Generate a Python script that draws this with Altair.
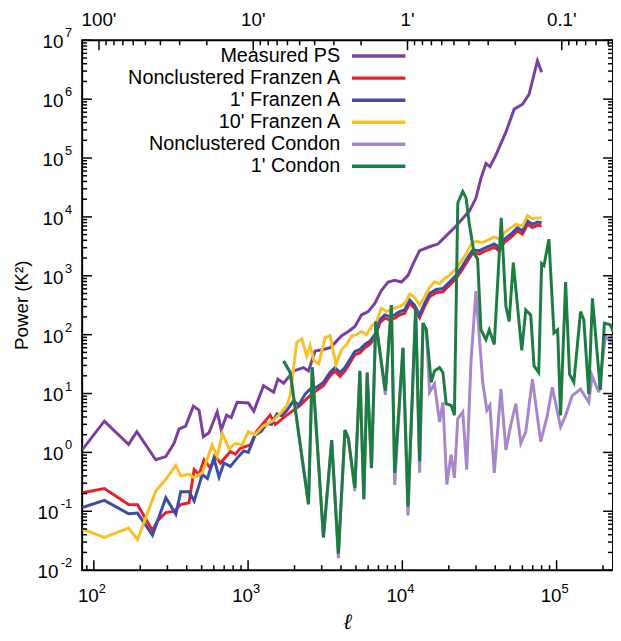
import altair as alt
import pandas as pd

FONT = "Liberation Sans"
W, H = 537, 536
X_DOMAIN = [84, 232000]
Y_DOMAIN = [0.01, 1e7]

SERIES = ["Measured PS", "Nonclustered Franzen A", "1' Franzen A",
          "10' Franzen A", "Nonclustered Condon", "1' Condon"]
COLORS = ["#7b3f9f", "#e5222b", "#3b4da6", "#f8c027", "#a886cb", "#1c7d41"]

MEASURED_L = [84, 117, 168, 190, 252, 293, 331, 357, 394, 442, 481, 513, 558, 631, 670, 725, 777, 849,
              1004, 1089, 1259, 1465, 1560, 1698, 1972, 2286, 2463, 2719, 3078, 3397, 3658, 4040, 4463,
              4925, 5437, 6008, 6628, 7323, 8095, 8920, 9860, 10890, 11730, 12940, 15000, 17000, 19220,
              22300, 25950, 27180, 29990, 32330, 34830, 36960, 40380, 46880, 53080, 60120, 66260, 75120,
              79960]
MEASURED_P = [1.1, 3.4, 1.37, 2.24, 0.75, 0.85, 1.43, 2.5, 2.8, 6.1, 5.2, 1.85, 2.15, 4.9, 2.4, 4.3, 3.9,
              7.1, 6.9, 5.0, 13.6, 10.5, 17.6, 15.0, 24.2, 27.6, 24.2, 52.5, 56, 60, 72.5, 96, 113, 138,
              217, 246, 340, 569, 784, 837, 784, 1016, 1597, 2670, 3110, 3460, 4770, 7010, 11000, 12500,
              20900, 45300, 80900, 71100, 112000, 275000, 677000, 820000, 1.21e6, 4.5e6, 2.87e6]

RED_L = [84, 117, 168, 192, 240, 259, 293, 331, 366, 414, 447, 481, 518, 570, 617, 662, 768, 829, 892,
         1034, 1139, 1390, 1499, 1785, 2175, 2520, 2790, 3078, 3397, 3658, 3940, 4245, 4570, 4925, 5305,
         5715, 6155, 6628, 7140, 7690, 8285, 8920, 9610, 10350, 11150, 12000, 12940, 13930, 15010, 16560,
         18320, 20200, 22300, 24640, 26570, 28600, 31560, 34830, 39430, 42490, 45760, 50460, 55720, 60120,
         64700, 69670, 75120, 79960]
RED_P = [0.207, 0.244, 0.13, 0.129, 0.047, 0.069, 0.095, 0.10, 0.13, 0.14, 0.51, 0.42, 0.75, 0.54, 0.85,
         0.66, 1.03, 0.93, 1.17, 1.34, 2.3, 4.3, 2.97, 4.3, 6.3, 9.2, 11.3, 13.6, 20, 24, 19.5, 24, 33, 46,
         49, 60, 68, 88, 158, 191, 178, 190, 216, 231, 340, 280, 195, 300, 440, 515, 535, 690, 894, 1315,
         1817, 2411, 2350, 2660, 3045, 2660, 3690, 4470, 5770, 5090, 7490, 6580, 7200, 7000]

BLUE_L = [84, 117, 168, 192, 240, 293, 340, 366, 414, 447, 505, 545, 600, 648, 697, 768, 849, 936, 1004,
          1110, 1220, 1323, 1420, 1538, 1656, 1785, 1972, 2123, 2345, 2525, 2790, 3078, 3397, 3658, 3940,
          4245, 4570, 4925, 5305, 5715, 6155, 6628, 7140, 7690, 8285, 8920, 9610, 10350, 11150, 12000,
          12940, 13930, 15010, 16560, 18320, 20200, 22300, 24640, 26570, 28600, 31560, 34830, 39430, 42490,
          45760, 50460, 55720, 60120, 64700, 69670, 75120, 79960]
BLUE_P = [0.116, 0.153, 0.091, 0.093, 0.039, 0.17, 0.089, 0.215, 0.215, 0.15, 0.42, 0.36, 0.8, 0.38, 0.66,
          0.58, 0.8, 1.06, 1.0, 1.96, 2.3, 3.1, 3.0, 4.5, 4.2, 5.2, 7.6, 6.3, 9.8, 11.9, 12.8, 15.5, 22.8,
          27.6, 22.8, 27.6, 38, 52, 56, 68, 77, 100, 179, 217, 203, 217, 246, 263, 386, 318, 217, 340, 501,
          585, 608, 784, 1016, 1494, 2065, 2740, 2670, 3020, 3460, 3020, 4190, 5080, 6560, 5780, 8510, 7480,
          8180, 7950]

YELLOW_L = [84, 117, 168, 192, 252, 293, 340, 366, 414, 447, 505, 585, 631, 681, 750, 829, 913, 1004, 1110,
            1250, 1465, 1650, 1785, 1875, 2070, 2230, 2400, 2525, 2680, 2870, 3155, 3397, 3715, 4040, 4350,
            4690, 5050, 5437, 5860, 6310, 6800, 7320, 7890, 8720, 9610, 10360, 11150, 12000, 12940, 13930,
            15010, 16150, 17420, 18750, 20200, 22300, 25880, 27870, 29990, 33190, 35730, 39430, 42490, 45760,
            49230, 54350, 60120, 64700, 69670, 75120, 79960]
YELLOW_P = [0.05, 0.036, 0.052, 0.033, 0.22, 0.35, 0.6, 0.4, 0.43, 0.37, 0.45, 1.34, 0.85, 2.1, 1.17, 1.43,
            1.34, 2.24, 2.0, 2.8, 3.5, 4.85, 6.3, 9.2, 75, 85, 43, 65, 36, 32, 88, 96, 31, 56, 68, 96, 100,
            113, 100, 138, 167, 280, 246, 280, 299, 340, 488, 430, 318, 440, 631, 784, 736, 893, 1016, 1315,
            2350, 3460, 3820, 3670, 4030, 4580, 4190, 5410, 6160, 7480, 7010, 10500, 9300, 9600, 9600]

CONDON_NC_L = [1700, 1875, 2464, 2606, 3079, 3483, 3848, 4245, 4466, 4923, 5304, 5625, 5916, 6310, 6725,
               7760, 8490, 8920, 10090, 10880, 12190, 12940, 13610, 14300, 15010, 16150, 17420, 18320,
               19420, 20710, 21750, 22870, 24640, 26140, 27870, 29990, 33190, 35320, 36960, 39430, 43550,
               46880, 50460, 54350, 58610, 63100, 69670, 78890, 87100, 93800, 106100, 114400, 126200,
               142900, 161600, 169800, 187400, 207000, 223000, 232000]
CONDON_NC_P = [35.6, 22.8, 0.132, 27.9, 0.036, 1.62, 0.016, 2.39, 1.73, 0.22, 24.2, 0.16, 22.8, 0.54, 167,
               9.5, 318, 0.28, 59.8, 0.085, 281, 0.45, 157, 121, 10.5, 14.5, 3.3, 7.1, 0.285, 0.91, 0.37,
               3.75, 4.85, 0.51, 35.6, 550, 15.5, 5.2, 6.3, 0.45, 11.9, 1.1, 2.9, 6.7, 1.43, 2.24, 17.6,
               1.52, 4.26, 12.8, 2.72, 4.26, 9.2, 11.9, 7.1, 20, 10.5, 94, 77, 100]

CONDON_1_L = [1700, 1875, 2464, 2606, 3079, 3483, 3848, 4245, 4466, 4923, 5304, 5625, 5916, 6310, 6725,
              7760, 8490, 8920, 10090, 10880, 12190, 12940, 13610, 14300, 15390, 16150, 17420, 18320, 19230,
              20710, 21750, 22870, 24640, 25880, 27180, 29250, 30750, 32330, 34830, 36600, 39430, 43750,
              46880, 49230, 52370, 59430, 63100, 67920, 71400, 76560, 79960, 82800, 89120, 96100, 101500,
              106100, 114400, 121300, 129300, 142900, 150100, 161600, 170600, 192100, 204000, 223000, 232000]
CONDON_1_P = [35.6, 22.8, 0.132, 27.9, 0.036, 1.62, 0.019, 2.39, 1.73, 0.25, 24.2, 0.16, 22.8, 0.54, 167,
              11.1, 318, 0.45, 59.8, 0.12, 281, 0.70, 157, 121, 15.5, 24.2, 27.6, 22.8, 6.7, 6.3, 4.26,
              17260, 27100, 21000, 7480, 2350, 1940, 121, 82, 121, 68, 9660, 307, 167, 1680, 54, 263, 217,
              29.4, 22.8, 1615, 1490, 4190, 107, 121, 4.26, 784, 21.3, 15.5, 246, 179, 9.8, 413, 11.5, 157,
              147, 113]

SERIES_DATA = [(MEASURED_L, MEASURED_P), (RED_L, RED_P), (BLUE_L, BLUE_P), (YELLOW_L, YELLOW_P),
               (CONDON_NC_L, CONDON_NC_P), (CONDON_1_L, CONDON_1_P)]

X_EXP = [2, 3, 4, 5]
Y_EXP = [-2, -1, 0, 1, 2, 3, 4, 5, 6, 7]
THETA_MAJOR = [100, 10, 1, 0.1]

X_MAJOR = [10.0 ** e for e in X_EXP]
X_MINOR = [90] + [k * 10.0 ** n for n in (2, 3, 4) for k in range(2, 10)] + [200000]
Y_MAJOR = [10.0 ** e for e in Y_EXP]
Y_MINOR = [k * 10.0 ** e for e in range(-2, 7) for k in range(2, 10)]
THETA_MINOR = [k * 10.0 ** e for e in (1, 0, -1) for k in range(2, 10)] + [0.05, 0.06, 0.07, 0.08, 0.09]
ARCMIN_RAD = 10800.0  # theta [arcmin] = 10800 / ell

xs = alt.Scale(type="log", domain=X_DOMAIN, nice=False)
ys = alt.Scale(type="log", domain=Y_DOMAIN, nice=False)


def X(f="l"):
    return alt.X(f"{f}:Q", scale=xs, axis=None)


def Y(f="p"):
    return alt.Y(f"{f}:Q", scale=ys, axis=None)


color = alt.Color("series:N", scale=alt.Scale(domain=SERIES, range=COLORS), legend=None)

layers = []
for name, (L, P) in zip(SERIES, SERIES_DATA):
    assert len(L) == len(P), name
    d = pd.DataFrame({"l": L, "p": P, "series": name})
    layers.append(alt.Chart(d).mark_line(strokeWidth=3, clip=True).encode(x=X(), y=Y(), color=color))


def xrule(vals, y0, y1):
    return alt.Chart(pd.DataFrame({"l": vals})).mark_rule(color="black", strokeWidth=1.5).encode(
        x=X(), y=alt.value(y0), y2=alt.value(y1))


def yrule(vals, x0, x1):
    return alt.Chart(pd.DataFrame({"p": vals})).mark_rule(color="black", strokeWidth=1.5).encode(
        y=Y(), x=alt.value(x0), x2=alt.value(x1))


MAJ, MIN = 10, 5
layers += [
    xrule(X_MAJOR, H, H - MAJ), xrule(X_MINOR, H, H - MIN),
    xrule([ARCMIN_RAD / t for t in THETA_MAJOR], 0, MAJ),
    xrule([ARCMIN_RAD / t for t in THETA_MINOR], 0, MIN),
    yrule(Y_MAJOR, 0, MAJ), yrule(Y_MINOR, 0, MIN),
    yrule(Y_MAJOR, W, W - MAJ), yrule(Y_MINOR, W, W - MIN),
]

# bottom tick labels
bx = pd.DataFrame({"l": X_MAJOR, "e": [str(e) for e in X_EXP]})
layers.append(alt.Chart(bx).mark_text(align="right", baseline="middle", fontSize=19, font=FONT, dx=5).encode(
    x=X(), y=alt.value(H + 26), text=alt.value("10")))
layers.append(alt.Chart(bx).mark_text(align="left", baseline="middle", fontSize=13, font=FONT, dx=5).encode(
    x=X(), y=alt.value(H + 19), text="e:N"))

# left tick labels
ly = pd.DataFrame({"p": Y_MAJOR, "e": Y_EXP, "es": [str(e) for e in Y_EXP]})
layers.append(alt.Chart(ly).transform_filter("datum.e >= 0").mark_text(
    align="right", baseline="middle", fontSize=19, font=FONT, dy=2).encode(
    x=alt.value(-19), y=Y(), text=alt.value("10")))
layers.append(alt.Chart(ly).transform_filter("datum.e < 0").mark_text(
    align="right", baseline="middle", fontSize=19, font=FONT, dy=2).encode(
    x=alt.value(-24), y=Y(), text=alt.value("10")))
layers.append(alt.Chart(ly).mark_text(align="right", baseline="middle", fontSize=13, font=FONT, dy=-7).encode(
    x=alt.value(-10), y=Y(), text="es:N"))

# top tick labels (angular scale)
tt = pd.DataFrame({"l": [ARCMIN_RAD / t for t in THETA_MAJOR], "txt": [f"{t:g}'" for t in THETA_MAJOR]})
layers.append(alt.Chart(tt).mark_text(align="center", baseline="middle", fontSize=19, font=FONT).encode(
    x=X(), y=alt.value(-20), text="txt:N"))

# axis titles
layers.append(alt.Chart(pd.DataFrame({"t": ["Power (K²)"]})).mark_text(
    angle=270, align="center", baseline="middle", fontSize=19, font=FONT).encode(
    x=alt.value(-61), y=alt.value(H / 2), text="t:N"))
layers.append(alt.Chart(pd.DataFrame({"t": ["ℓ"]})).mark_text(
    align="center", baseline="middle", fontSize=22, font="DejaVu Serif", fontStyle="italic").encode(
    x=alt.value(W / 2), y=alt.value(H + 53), text="t:N"))

# legend (labels left of the line samples)
leg = pd.DataFrame({"series": SERIES, "row": list(range(len(SERIES)))})
layers.append(alt.Chart(leg).transform_calculate(ypix="16 + 22.3 * datum.row").mark_text(
    align="right", baseline="middle", fontSize=20, font=FONT).encode(
    x=alt.value(261), y=alt.Y("ypix:Q", scale=None, axis=None), text="series:N"))
layers.append(alt.Chart(leg).transform_calculate(ypix="16 + 22.3 * datum.row").mark_rule(strokeWidth=3.5).encode(
    x=alt.value(273), x2=alt.value(327), y=alt.Y("ypix:Q", scale=None, axis=None), color=color))

chart = alt.layer(*layers).properties(
    width=W, height=H,
    autosize=alt.AutoSizeParams(type="none"),
    padding={"left": 75, "top": 29, "right": 0, "bottom": 67},
).configure_view(stroke="black", strokeWidth=2)

chart.save("out.html", embed_options={"renderer": "svg", "actions": False})
